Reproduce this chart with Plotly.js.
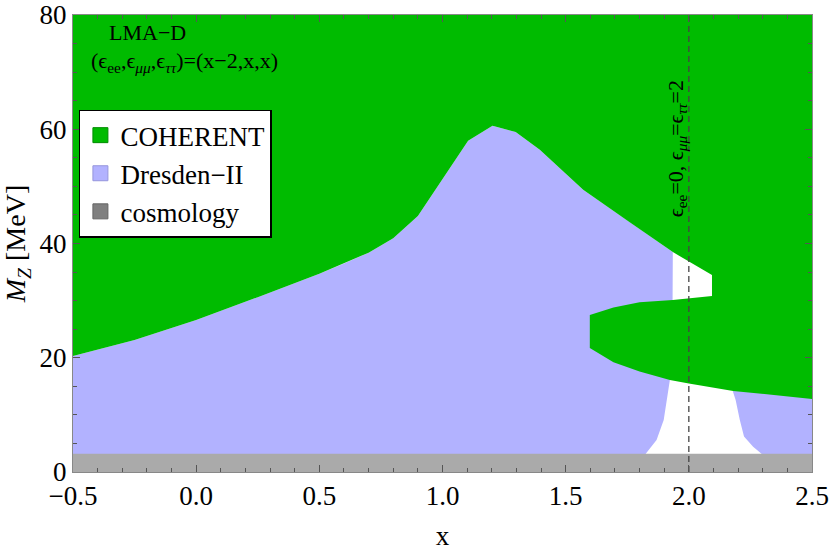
<!DOCTYPE html>
<html>
<head>
<meta charset="utf-8">
<script src="https://cdn.plot.ly/plotly-3.0.1.min.js"></script>
<style>
  body { margin: 0; background: #fff; }
  #plot { width: 830px; height: 551px; }
</style>
</head>
<body>
<div id="plot"></div>
<script>
// values: x and M_Z [MeV]

// COHERENT: lower edge of the big excluded region on top
var cohEdgeX = [-0.5, -0.25, 0, 0.25, 0.5, 0.6, 0.7, 0.8, 0.9, 1.104, 1.203, 1.297, 1.395, 1.571, 1.76, 1.935, 2.094];
var cohEdgeY = [20.3, 23.1, 26.6, 30.6, 34.7, 36.5, 38.4, 40.9, 44.8, 58.0, 60.6, 59.5, 56.4, 49.4, 43.7, 38.5, 34.5];

// COHERENT: the tongue reaching in from the right
var tongueTopX = [2.094, 2.0, 1.935, 1.8, 1.694, 1.598];
var tongueTopY = [30.8, 30.4, 30.1, 29.7, 28.8, 27.5];
var tongueBotX = [1.598, 1.694, 1.80, 1.923, 2.0, 2.18, 2.5];
var tongueBotY = [21.7, 19.2, 17.6, 16.1, 15.5, 14.2, 12.8];

// Dresden-II: edges of the allowed gap around x = 2
var dresLeftX = [1.935, 1.934, 1.923, 1.898, 1.869, 1.825];
var dresLeftY = [38.5, 30.1, 16.1, 9.1, 5.6, 3.2];
var dresRightX = [2.295, 2.261, 2.224, 2.207, 2.19, 2.173, 2.16];
var dresRightY = [3.2, 4.4, 6.2, 9.1, 12.6, 14.9, 17];

// cosmology bound
var cosmoMax = 3.2;

var xMin = -0.5, xMax = 2.5, yMax = 80;
var benchX = 2.0;

var green = "rgb(0,187,0)";
var blue = "rgb(178,178,255)";
var grey = "rgb(170,170,170)";
var serif = "Liberation Serif, Times New Roman, serif";

function rev(a) { return a.slice().reverse(); }
function last(a) { return a[a.length - 1]; }

// Dresden-II, left part (top edge hidden under COHERENT)
var blueLeft = {
  x: [xMin].concat(cohEdgeX.slice(0, -1), dresLeftX, [last(dresLeftX)]),
  y: [0].concat(cohEdgeY.slice(0, -1), dresLeftY, [0]),
  type: "scatter", mode: "lines", fill: "toself",
  fillcolor: blue, line: {width: 0}, showlegend: false, hoverinfo: "skip"
};

// Dresden-II, right part
var blueRight = {
  x: [dresRightX[0]].concat(dresRightX, [xMax, xMax]),
  y: [0].concat(dresRightY, [last(dresRightY), 0]),
  type: "scatter", mode: "lines", fill: "toself",
  fillcolor: blue, line: {width: 0}, showlegend: false, hoverinfo: "skip"
};

// COHERENT region
var coh = {
  x: [xMin, xMax].concat(rev(tongueBotX), rev(tongueTopX), rev(cohEdgeX)),
  y: [yMax, yMax].concat(rev(tongueBotY), rev(tongueTopY), rev(cohEdgeY)),
  type: "scatter", mode: "lines", fill: "toself",
  fillcolor: green, line: {width: 0}, showlegend: false, hoverinfo: "skip"
};

var cosmo = {
  x: [xMin, xMax], y: [cosmoMax, cosmoMax],
  type: "scatter", mode: "lines", fill: "tozeroy",
  fillcolor: grey, line: {width: 0}, showlegend: false, hoverinfo: "skip"
};

var bench = {
  x: [benchX, benchX], y: [0, yMax],
  type: "scatter", mode: "lines",
  line: {color: "#444", width: 1.3, dash: "6px,4px"},
  showlegend: false, hoverinfo: "skip"
};

function legendItem(name, color, edge, rank) {
  return {
    x: [null], y: [null], type: "scatter", mode: "markers", name: name,
    marker: {symbol: "square", size: 15, color: color, line: {color: edge, width: 1}},
    legendrank: rank, legendgroup: name
  };
}

var data = [
  blueLeft, blueRight, coh, cosmo, bench,
  legendItem("COHERENT", green, "rgb(0,140,0)", 1),
  legendItem("Dresden\u2212II", blue, "rgb(150,150,220)", 2),
  legendItem("cosmology", "rgb(128,128,128)", "rgb(100,100,100)", 3)
];

var axisCommon = {
  showgrid: false, zeroline: false,
  showline: true, linecolor: "#888", linewidth: 1, mirror: "ticks",
  ticks: "inside", ticklen: 7, tickcolor: "#555", tickwidth: 1,
  tickfont: {family: serif, size: 27, color: "#000"}
};

var layout = {
  width: 830, height: 551,
  margin: {l: 73, r: 18, t: 15, b: 79},
  paper_bgcolor: "#fff", plot_bgcolor: "#fff",
  font: {family: serif, color: "#000"},
  xaxis: Object.assign({}, axisCommon, {
    range: [xMin, xMax], dtick: 0.5, tick0: 0, tickformat: ".1f",
    minor: {dtick: 0.1, ticks: "inside", ticklen: 4, tickcolor: "#555"},
    title: {text: "x", font: {family: serif, size: 27}, standoff: 18}
  }),
  yaxis: Object.assign({}, axisCommon, {
    range: [0, yMax], dtick: 20, tick0: 0,
    minor: {dtick: 5, ticks: "inside", ticklen: 4, tickcolor: "#555"},
    title: {text: "<i>M</i><sub><i>Z</i></sub> [MeV]", font: {family: serif, size: 28}, standoff: 8}
  }),
  showlegend: true,
  legend: {
    x: 0.008, y: 0.793, xanchor: "left", yanchor: "top",
    bgcolor: "#fff", bordercolor: "#000", borderwidth: 1.5,
    font: {family: serif, size: 27}, tracegroupgap: 0, traceorder: "grouped"
  },
  annotations: [
    {x: -0.197, y: 76.9, text: "LMA\u2212D", showarrow: false,
     font: {family: serif, size: 22}},
    {x: -0.048, y: 71.8,
     text: "(\u03f5<sub>ee</sub>,\u03f5<sub><i>\u03bc\u03bc</i></sub>,\u03f5<sub><i>\u03c4\u03c4</i></sub>)=(x\u22122,x,x)",
     showarrow: false, font: {family: serif, size: 22}},
    {x: 1.95, y: 56.6, textangle: -90,
     text: "\u03f5<sub>ee</sub>=0, \u03f5<sub><i>\u03bc\u03bc</i></sub>=\u03f5<sub><i>\u03c4\u03c4</i></sub>=2",
     showarrow: false, font: {family: serif, size: 22}}
  ]
};

Plotly.newPlot("plot", data, layout, {staticPlot: true, displayModeBar: false});
</script>
</body>
</html>
